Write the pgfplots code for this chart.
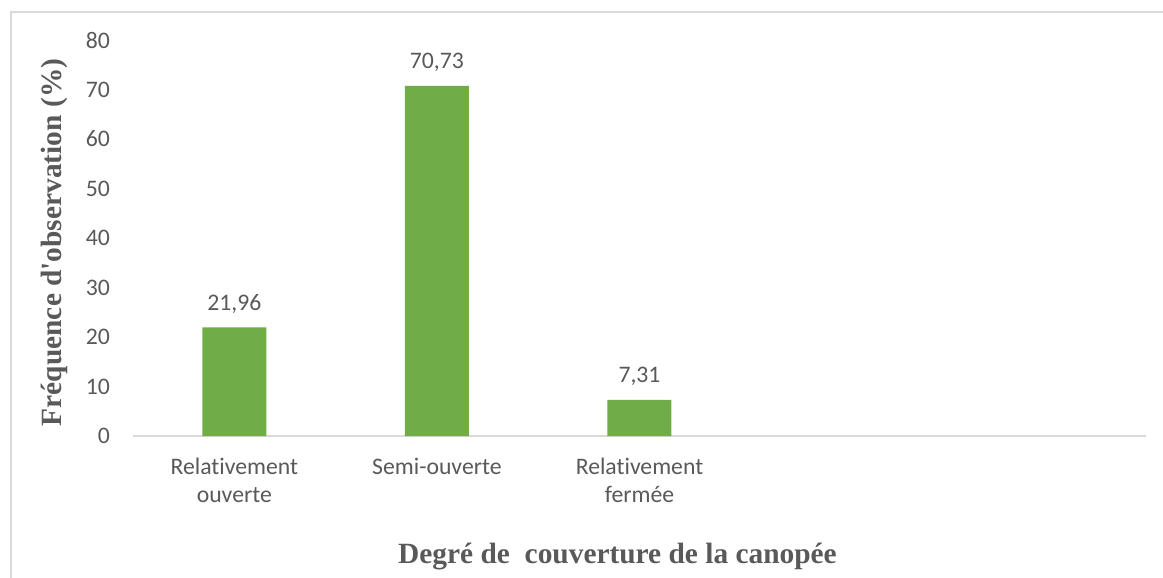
\documentclass[border=0pt]{standalone}
\usepackage{fontspec}
\setmainfont{Carlito}[Ligatures=NoCommon]
\newfontfamily\titlefont{Liberation Serif}
\usepackage{pgfplots}
\pgfplotsset{compat=1.18}
\definecolor{bargreen}{HTML}{70AD47}
\definecolor{txtgray}{HTML}{595959}
\definecolor{linegray}{HTML}{D9D9D9}
\begin{document}
\begin{tikzpicture}
\useasboundingbox (-133bp,-142bp) rectangle (1030bp,436bp);
\draw[linegray, line width=1.5bp] (-122bp,-145bp) -- (-122bp,424bp) -- (1035bp,424bp);
\begin{axis}[
  at={(0,0)}, anchor=south west,
  scale only axis, width=1013bp, height=396bp,
  ybar, bar width=64bp,
  xmin=-0.5, xmax=4.5, ymin=0, ymax=80,
  xtick={0,1,2},
  xticklabels={{Relativement\\ouverte},{Semi-ouverte},{Relativement\\fermée}},
  ytick={0,10,...,80},
  axis x line*=bottom, axis y line*=left,
  x axis line style={-, draw=linegray, line width=1.5bp},
  y axis line style={draw=none},
  major tick length=0pt, tick style={draw=none},
  /pgf/number format/assume math mode=true,
  ticklabel style={font=\fontsize{23.8}{28}\selectfont, text=txtgray},
  yticklabel style={inner sep=0pt, anchor=east, xshift=-23bp},
  xticklabel style={inner sep=0pt, anchor=north, align=center, yshift=-22bp},
  nodes near coords,
  nodes near coords style={font=\fontsize{23.8}{28}\selectfont, text=txtgray,
    anchor=base, inner sep=0pt, yshift=17bp,
    /pgf/number format/.cd, fixed, fixed zerofill, precision=2, use comma, assume math mode=true},
]
\addplot[fill=bargreen, draw=none] coordinates {(0,21.96) (1,70.73) (2,7.31)};
\end{axis}
\node[anchor=base, inner sep=0pt, text=txtgray, font=\titlefont\bfseries\fontsize{29.5}{34}\selectfont]
  at (484.5bp,-127bp) {Degré de~ couverture de la canopée};
\node[anchor=base, inner sep=0pt, rotate=90, text=txtgray, font=\titlefont\bfseries\fontsize{29.5}{34}\selectfont]
  at (-71bp,193.5bp) {Fréquence d'observation (\%)};
\end{tikzpicture}
\end{document}
